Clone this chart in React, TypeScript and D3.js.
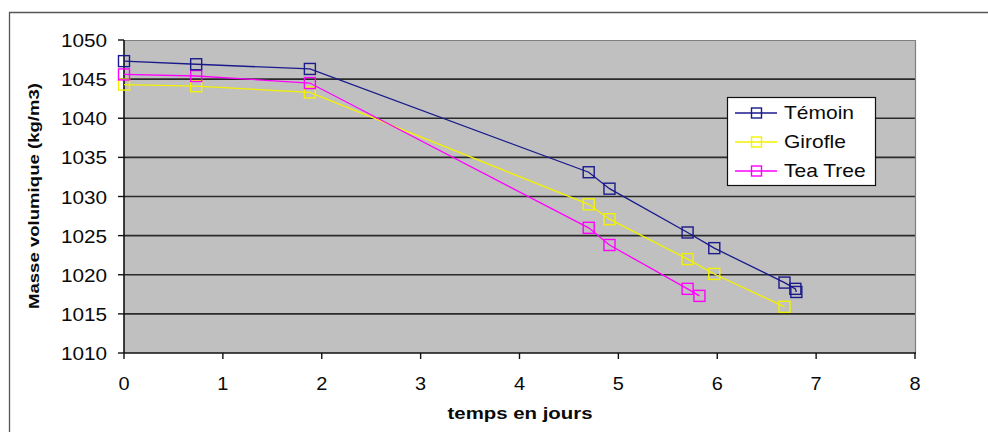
import React from "react";
import * as d3 from "d3";

const days = [0, 0.73, 1.88, 4.7, 4.91, 5.7, 5.97, 6.68, 6.79, 6.8];
const temoin = [1047.3, 1046.9, 1046.3, 1033.1, 1031.0, 1025.4, 1023.4, 1019.0, 1018.2, 1017.8];
const daysGirofle = [0, 0.73, 1.88, 4.7, 4.91, 5.7, 5.97, 6.68];
const girofle = [1044.3, 1044.1, 1043.3, 1029.0, 1027.1, 1022.0, 1020.1, 1015.9];
const daysTea = [0, 0.73, 1.88, 4.7, 4.91, 5.7, 5.82];
const teaTree = [1045.6, 1045.4, 1044.5, 1026.0, 1023.8, 1018.2, 1017.3];
const xTicks = [0, 1, 2, 3, 4, 5, 6, 7, 8];
const yTicks = [1010, 1015, 1020, 1025, 1030, 1035, 1040, 1045, 1050];

const seriesNames = ["Témoin", "Girofle", "Tea Tree"];
const seriesColors = ["#1a1a8c", "#f2f200", "#ff00ff"];

const W = 988, H = 432;
const L = 124, R = 915, T = 40, B = 353;
const FONT = "'Liberation Sans', Arial, sans-serif";

function SText({ x, y, children, size = 17, anchor = "start", bold = false, sx = 1.2 }: any) {
  return (
    <g transform={`translate(${x},${y}) scale(${sx},1)`}>
      <text x={0} y={0} fontSize={size} fontFamily={FONT} fontWeight={bold ? "bold" : "normal"}
        textAnchor={anchor} fill="#0a0a0a">{children}</text>
    </g>
  );
}

export default function App() {
  const x = d3.scaleLinear().domain([0, 8]).range([L, R]);
  const y = d3.scaleLinear().domain([1010, 1050]).range([B, T]);
  const line = d3.line<[number, number]>().x(d => x(d[0])).y(d => y(d[1]));
  const series = [
    d3.zip(days, temoin) as [number, number][],
    d3.zip(daysGirofle, girofle) as [number, number][],
    d3.zip(daysTea, teaTree) as [number, number][],
  ];
  const order = [1, 2, 0];
  const ms = 11;
  return (
    <div style={{ position: "fixed", left: 0, top: 0 }}>
      <svg width={W} height={H} style={{ display: "block", background: "#fff" }}>
        <path d={`M${W + 5},12.5H9.5V${H + 5}`} fill="none" stroke="#555" strokeWidth={1.3} />
        <rect x={L} y={T} width={R - L} height={B - T} fill="#c0c0c0" />
        {yTicks.filter(v => v !== 1010 && v !== 1050).map(v => (
          <line key={v} x1={L} x2={R} y1={y(v)} y2={y(v)} stroke="#2a2a2a" strokeWidth={1.6} />
        ))}
        <path d={`M${L},${T}.5H${R}.5V${B}`} fill="none" stroke="#808080" strokeWidth={1.2} />
        <line x1={L} x2={R + 1} y1={B} y2={B} stroke="#111" strokeWidth={1.6} />
        <line x1={L} x2={L} y1={T} y2={B} stroke="#111" strokeWidth={1.6} />
        {yTicks.map(v => (
          <g key={v}>
            <line x1={L - 6} x2={L} y1={y(v)} y2={y(v)} stroke="#111" strokeWidth={1.4} />
            <SText x={107} y={y(v) + 7} anchor="end" size={18.5} sx={1.12}>{v}</SText>
          </g>
        ))}
        {xTicks.map(v => (
          <g key={v}>
            <line x1={x(v)} x2={x(v)} y1={B} y2={B + 6} stroke="#111" strokeWidth={1.4} />
            <SText x={x(v)} y={390} anchor="middle" size={19} sx={1.05}>{v}</SText>
          </g>
        ))}
        {order.map(i => (
          <g key={i}>
            <path d={line(series[i]) || ""} fill="none" stroke={seriesColors[i]} strokeWidth={1.3} />
            {series[i].map((d, j) => (
              <rect key={j} x={x(d[0]) - ms / 2} y={y(d[1]) - ms / 2} width={ms} height={ms}
                fill="none" stroke={seriesColors[i]} strokeWidth={1.4} />
            ))}
          </g>
        ))}
        <rect x={727.5} y={97.5} width={148} height={88} fill="#fff" stroke="#111" strokeWidth={1.2} />
        {seriesNames.map((n, i) => {
          const ly = 113 + i * 29;
          return (
            <g key={n}>
              <line x1={735} x2={777} y1={ly} y2={ly} stroke={seriesColors[i]} strokeWidth={1.3} />
              <rect x={751.5} y={ly - 5} width={10} height={10} fill="none" stroke={seriesColors[i]} strokeWidth={1.4} />
              <SText x={784} y={ly + 6} size={17.5} sx={1.2}>{n}</SText>
            </g>
          );
        })}
        <SText x={520} y={419} anchor="middle" bold size={17} sx={1.2}>temps en jours</SText>
        <g transform={`translate(39,196) rotate(-90)`}>
          <text x={0} y={0} fontSize={15.5} fontFamily={FONT} fontWeight="bold" textAnchor="middle"
            fill="#0a0a0a" textLength={226} lengthAdjust="spacingAndGlyphs">Masse volumique (kg/m3)</text>
        </g>
      </svg>
    </div>
  );
}
